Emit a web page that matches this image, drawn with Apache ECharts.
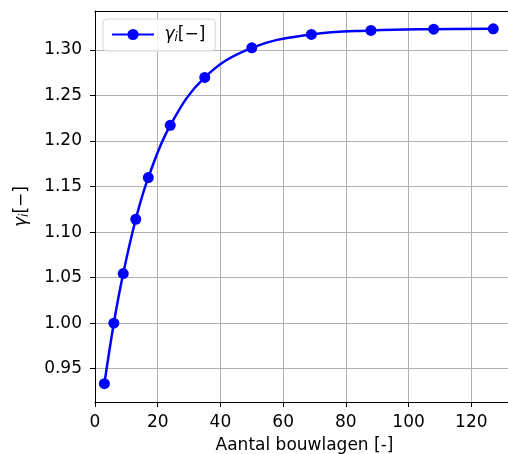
<!DOCTYPE html>
<html style="height: 100%">
<head>
<meta charset="utf-8" />
<title>gamma_i</title>
<script type="text/javascript" src="https://cdn.jsdelivr.net/npm/echarts@6/dist/echarts.min.js"></script>
<style>
  html, body { margin: 0; padding: 0; background: #fff; }
  #container { width: 508px; height: 454px; }
</style>
</head>
<body>
<div id="container"></div>
<script type="text/javascript">
var lagen = [3, 6, 9, 13, 17, 24, 35, 50, 69, 88, 108, 127];
var gamma = [0.9336, 1.0000, 1.0545, 1.1141, 1.1598, 1.2172, 1.2698, 1.3023, 1.3170, 1.3214, 1.3228, 1.3231];
var yTicks = [0.95, 1.00, 1.05, 1.10, 1.15, 1.20, 1.25, 1.30];

var FONT = 'DejaVu Sans';
var gammaRich = {
    g: { fontFamily: FONT, fontSize: 17, fontStyle: 'italic', color: '#000' },
    s: { fontFamily: FONT, fontSize: 12, fontStyle: 'italic', color: '#000', padding: [7, 0, 0, 0] },
    b: { fontFamily: FONT, fontSize: 17, color: '#000' }
};

var punten = [];
for (var i = 0; i < lagen.length; i++) {
    punten.push([lagen[i], gamma[i]]);
}

var myChart = echarts.init(document.getElementById('container'));
var option = {
    animation: false,
    grid: {
        left: 95, right: 0, top: 11, bottom: 52,
        outerBoundsMode: 'none'
    },
    legend: {
        left: 103, top: 19,
        padding: [7, 10, 7, 8],
        itemWidth: 42, itemHeight: 14,
        backgroundColor: 'rgba(255,255,255,0.8)',
        borderColor: '#d6d6d6', borderWidth: 1, borderRadius: 4,
        formatter: function () { return ' {g|γ}{s|i}{b|[−]}'; },
        textStyle: { rich: gammaRich, fontFamily: FONT, fontSize: 17 },
        data: ['gamma']
    },
    xAxis: [{
        type: 'value', min: 0, max: 131.7, interval: 20,
        name: 'Aantal bouwlagen [-]', nameLocation: 'middle', nameGap: 35,
        nameTextStyle: { fontFamily: FONT, fontSize: 17, color: '#000', padding: [0, 0, 0, 6] },
        axisLine: { show: true, onZero: false, lineStyle: { color: '#000', width: 1 } },
        axisTick: { show: true, length: 5, lineStyle: { color: '#000' } },
        axisLabel: { fontFamily: FONT, fontSize: 17, color: '#000', margin: 12,
                     showMaxLabel: false },
        splitLine: { show: true, showMaxLine: false, lineStyle: { color: '#b0b0b0', width: 1 } }
    }, {
        // bovenste rand
        type: 'value', position: 'top', min: 0, max: 131.7,
        axisLine: { show: true, onZero: false, lineStyle: { color: '#000', width: 1 } },
        axisTick: { show: false }, axisLabel: { show: false }, splitLine: { show: false }
    }],
    yAxis: {
        type: 'value', min: 0.9135, max: 1.3427,
        name: '{g|γ}{s|i}{b|[−]}', nameLocation: 'middle', nameGap: 64, nameRotate: 90,
        nameTextStyle: { rich: gammaRich },
        axisLine: { show: true, onZero: false, lineStyle: { color: '#000', width: 1 } },
        axisTick: { show: true, length: 5, customValues: yTicks, lineStyle: { color: '#000' } },
        axisLabel: { fontFamily: FONT, fontSize: 17, color: '#000', margin: 13,
                     customValues: yTicks,
                     formatter: function (v) { return v.toFixed(2); } },
        splitLine: { show: true, lineStyle: { color: '#b0b0b0', width: 1 } }
    },
    series: [{
        name: 'gamma',
        type: 'line',
        xAxisIndex: 0,
        data: punten,
        smooth: 0.4,
        symbol: 'circle',
        symbolSize: 11,
        itemStyle: { color: '#0000ff' },
        lineStyle: { color: '#0000ff', width: 2.5 }
    }]
};
myChart.setOption(option);
</script>
</body>
</html>
